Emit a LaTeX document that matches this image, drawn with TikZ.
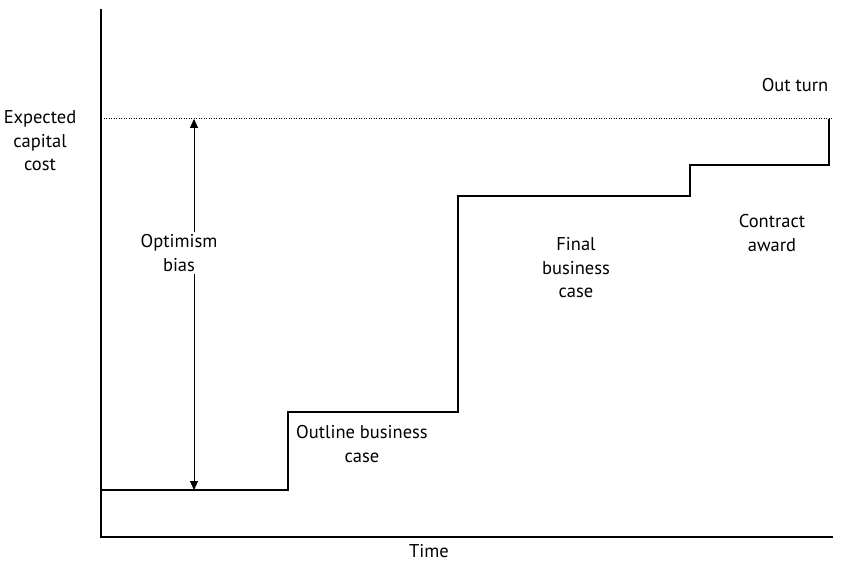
\documentclass[tikz,border=0pt]{standalone}
\usepackage{fontspec}
\setmainfont{PT Sans}
\usetikzlibrary{arrows.meta}
\begin{document}
\begin{tikzpicture}[x=1pt,y=-1pt,
  lbl/.style={align=center,font=\fontsize{18.5}{23.5}\selectfont,inner sep=0pt},
  axis/.style={line width=1.5pt},
  stepline/.style={line width=1.5pt},
  level/.style={dash pattern=on 1pt off 1.5pt,line width=1pt}]
\useasboundingbox (0,0) rectangle (846,564);
% axes
\coordinate (ytop) at (101,9);
\coordinate (orig) at (101,537);
\coordinate (xend) at (833,537);
\draw[axis] (ytop) -- (orig) -- (xend);
% expected cost level
\coordinate (lvlL) at (101,119);
\coordinate (lvlR) at (833,119);
\draw[level] (lvlL) -- (lvlR);
% cost step line
\coordinate (s0) at (101,490);
\coordinate (s1) at (288,490);
\coordinate (s2) at (288,412);
\coordinate (s3) at (458,412);
\coordinate (s4) at (458,196);
\coordinate (s5) at (690,196);
\coordinate (s6) at (690,165);
\coordinate (s7) at (829,165);
\coordinate (s8) at (829,119);
\draw[stepline] (s0) -- (s1) -- (s2) -- (s3) -- (s4) -- (s5) -- (s6) -- (s7) -- (s8);
% optimism bias arrow
\coordinate (bT) at (194,119);
\coordinate (bB) at (194,490);
\draw[line width=1pt,{Triangle[length=9pt,width=8pt]}-{Triangle[length=9pt,width=8pt]}] (bT) -- (bB);
% labels
\node[lbl] (exp) at (40,141) {Expected\\capital\\cost};
\node[lbl,fill=white,inner ysep=3pt] (opt) at (179,253) {Optimism\\bias};
\node[lbl] (obc) at (362,444) {Outline business\\case};
\node[lbl] (fbc) at (576,268) {Final\\business\\case};
\node[lbl] (ca) at (772,233) {Contract\\award};
\node[lbl] (out) at (795,85) {Out turn};
\node[lbl] (time) at (429,551) {Time};
\end{tikzpicture}
\end{document}
